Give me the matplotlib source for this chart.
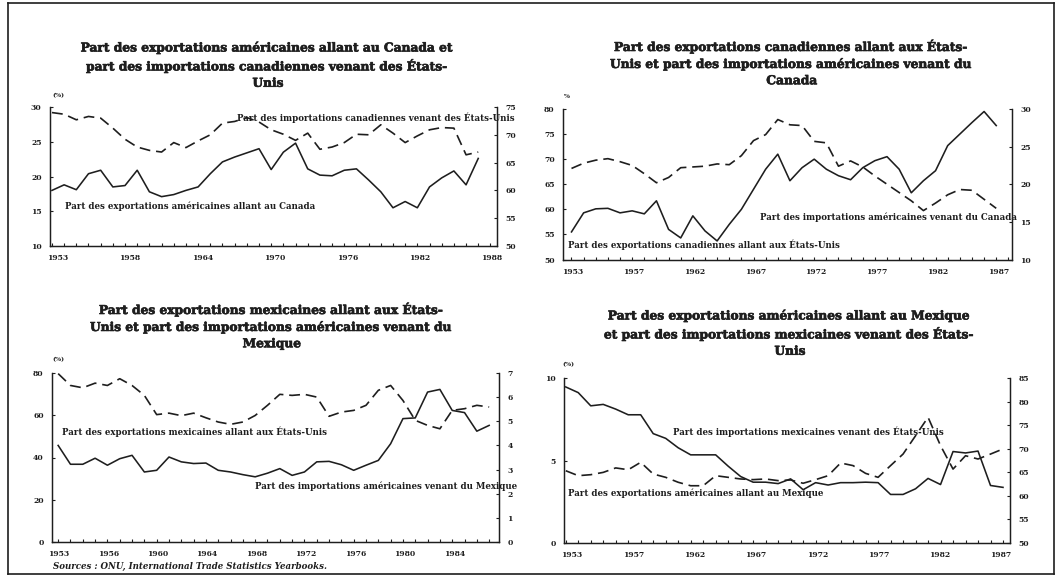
import numpy as np
import matplotlib
matplotlib.use("Agg")
import matplotlib.pyplot as plt
from matplotlib.lines import Line2D
import matplotlib.patheffects as pe

W, H = 1058, 578

# ---- data -------------------------------------------------------------
# Canada / Etats-Unis (en %)
us_exp_to_canada = [18.0, 18.8, 18.1, 20.4, 20.9, 18.5, 18.7, 20.9, 17.8, 17.1,
                    17.4, 18.0, 18.5, 20.4, 22.1, 22.8, 23.4, 24.0, 21.0, 23.5,
                    24.8, 21.1, 20.2, 20.1, 20.9, 21.1, 19.5, 17.8, 15.5, 16.4,
                    15.5, 18.5, 19.8, 20.8, 18.8, 22.6]
can_imp_from_us = [74.0, 73.7, 72.7, 73.3, 73.0, 71.2, 69.2, 67.8, 67.2, 66.9,
                   68.6, 67.7, 68.9, 70.0, 72.1, 72.4, 73.1, 72.3, 70.9, 70.1,
                   69.0, 70.3, 67.4, 67.8, 68.6, 70.1, 70.0, 71.8, 70.3, 68.6,
                   69.8, 70.9, 71.3, 71.2, 66.4, 66.9]

can_exp_to_us = [55.5, 59.3, 60.1, 60.2, 59.3, 59.7, 59.1, 61.7, 56.0, 54.3,
                 58.7, 55.7, 53.7, 57.0, 60.0, 64.0, 68.0, 71.0, 65.7, 68.3,
                 70.0, 68.0, 66.7, 65.9, 68.3, 69.7, 70.5, 68.0, 63.3, 65.7,
                 67.7, 72.7, 75.0, 77.3, 79.5, 76.7]
us_imp_from_canada = [22.1, 22.8, 23.2, 23.4, 23.0, 22.5, 21.4, 20.2, 20.9, 22.2,
                      22.3, 22.4, 22.7, 22.6, 23.8, 25.8, 26.6, 28.6, 27.9, 27.8,
                      25.7, 25.5, 22.4, 23.1, 22.3, 21.1, 20.0, 18.9, 17.8, 16.5,
                      17.5, 18.6, 19.3, 19.2, 18.0, 16.8]

# Mexique / Etats-Unis (en %)
mex_exp_to_us = [79.7, 74.1, 73.0, 75.2, 74.1, 77.3, 74.1, 69.4, 60.3, 61.0,
                 59.8, 61.0, 58.8, 56.8, 55.7, 56.8, 59.9, 64.7, 69.9, 69.4,
                 69.9, 68.6, 59.5, 61.5, 62.3, 64.7, 71.8, 74.1, 67.0, 57.6,
                 55.2, 53.6, 62.3, 63.1, 64.7, 63.9]
us_imp_from_mexico = [4.00, 3.22, 3.22, 3.47, 3.18, 3.45, 3.59, 2.90, 2.97, 3.52,
                      3.32, 3.25, 3.27, 2.97, 2.90, 2.79, 2.70, 2.85, 3.04, 2.76,
                      2.90, 3.32, 3.34, 3.20, 2.97, 3.18, 3.38, 4.07, 5.11, 5.14,
                      6.21, 6.32, 5.45, 5.36, 4.59, 4.83]

us_exp_to_mexico = [4.38, 4.08, 4.14, 4.28, 4.55, 4.44, 4.89, 4.18, 3.98, 3.68,
                    3.47, 3.47, 4.08, 3.98, 3.88, 3.84, 3.88, 3.78, 3.82, 3.62,
                    3.84, 4.08, 4.85, 4.69, 4.22, 3.98, 4.69, 5.39, 6.50, 7.62,
                    5.90, 4.48, 5.29, 5.09, 5.39, 5.70]
mex_imp_from_us = [83.1, 81.9, 79.1, 79.4, 78.4, 77.2, 77.2, 73.2, 72.2, 70.2,
                   68.7, 68.7, 68.7, 66.3, 64.1, 62.9, 62.9, 62.6, 63.6, 61.3,
                   62.8, 62.3, 62.8, 62.8, 62.9, 62.8, 60.3, 60.3, 61.5, 63.7,
                   62.4, 69.4, 69.1, 69.5, 62.2, 61.8]

first_year = 1953

# tick labels of the four year axes
years_tl = ["1953", "1958", "1964", "1970", "1976", "1982", "1988"]
years_tr = ["1953", "1957", "1962", "1967", "1972", "1977", "1982", "1987"]
years_bl = ["1953", "1956", "1960", "1964", "1968", "1972", "1976", "1980", "1984"]
years_br = ["1953", "1957", "1962", "1967", "1972", "1977", "1982", "1987"]

titles = [
    "Part des exportations américaines allant au Canada et\n"
    "part des importations canadiennes venant des États-\nUnis",
    "Part des exportations canadiennes allant aux États-\n"
    "Unis et part des importations américaines venant du\nCanada",
    "Part des exportations mexicaines allant aux États-\n"
    "Unis et part des importations américaines venant du\nMexique",
    "Part des exportations américaines allant au Mexique\n"
    "et part des importations mexicaines venant des États-\nUnis",
]

INK = "#1e1e1e"
SERIF = ["DejaVu Serif"]
HEAVY = [pe.withStroke(linewidth=0.45, foreground=INK)]

fig = plt.figure(figsize=(W / 100, H / 100), dpi=100)
fig.patch.set_facecolor("white")


def box(x0, y0, x1, y1):
    """axes rectangle from pixel corners (top-left origin)"""
    return [x0 / W, 1 - y1 / H, (x1 - x0) / W, (y1 - y0) / H]


def ftext(x, y, s, **kw):
    kw.setdefault("family", SERIF)
    kw.setdefault("color", INK)
    return fig.text(x / W, 1 - y / H, s, **kw)


def panel(rect, left_vals, right_vals, solid_on_left, ylim_l, yt_l, ylim_r, yt_r,
          xlabels, pad_left, span, f0, f1):
    ax = fig.add_axes(rect)
    axr = ax.twinx()
    n = len(left_vals)
    x = np.arange(first_year, first_year + n)
    xmin = first_year - pad_left
    xmax = xmin + span

    dash = dict(color=INK, lw=1.2, dashes=(6.5, 3.5))
    sol = dict(color=INK, lw=1.15)
    if solid_on_left:
        ax.plot(x, left_vals, **sol)
        axr.plot(x, right_vals, **dash)
    else:
        ax.plot(x, left_vals, **dash)
        axr.plot(x, right_vals, **sol)

    ax.set_yticks(yt_l)
    axr.set_yticks(yt_r)
    ax.set_yticklabels([str(v) for v in yt_l])
    axr.set_yticklabels([str(v) for v in yt_r])

    pos = np.linspace(xmin + f0 * span, xmin + f1 * span, len(xlabels))
    ax.set_xticks(pos)
    ax.set_xticklabels(xlabels)
    yearly = np.arange(np.ceil(xmin), np.floor(xmax) + 1)
    ax.set_xticks(yearly, minor=True)

    ax.set_xlim(xmin, xmax)
    ax.set_ylim(*ylim_l)
    axr.set_ylim(*ylim_r)

    for a in (ax, axr):
        for s in a.spines.values():
            s.set_linewidth(0.9)
            s.set_color(INK)
        a.spines["top"].set_visible(False)
        a.tick_params(axis="y", direction="in", length=2.5, width=0.8,
                      labelsize=5.5, pad=6, colors=INK)
        for lab in a.get_yticklabels():
            lab.set_family(SERIF)
            lab.set_fontweight("bold")
    ax.tick_params(axis="x", which="major", length=0, labelsize=5.5, pad=6,
                   colors=INK)
    ax.tick_params(axis="x", which="minor", direction="in", length=2.5, width=0.8,
                   colors=INK)
    for lab in ax.get_xticklabels():
        lab.set_family(SERIF)
        lab.set_fontweight("bold")
    return ax, axr


# top-left: Canada
panel(box(50, 107, 497, 246), us_exp_to_canada, can_imp_from_us, True,
      (10, 30), [10, 15, 20, 25, 30], (50, 75), [50, 55, 60, 65, 70, 75],
      years_tl, 0.16, 36.7, 0.017, 0.989)
# top-right: Canada
panel(box(563, 109, 1012, 259.5), can_exp_to_us, us_imp_from_canada, True,
      (50, 80), [50, 55, 60, 65, 70, 75, 80], (10, 30), [10, 15, 20, 25, 30],
      years_tr, 0.7, 37.0, 0.022, 0.97)
# bottom-left: Mexique
panel(box(52, 373, 499, 542), mex_exp_to_us, us_imp_from_mexico, False,
      (0, 80), [0, 20, 40, 60, 80], (0, 7), [0, 1, 2, 3, 4, 5, 6, 7],
      years_bl, 0.5, 36.3, 0.015, 0.90)
# bottom-right: Mexique
panel(box(564, 378, 1010, 543), us_exp_to_mexico, mex_imp_from_us, False,
      (0, 10), [0, 5, 10], (50, 85), [50, 55, 60, 65, 70, 75, 80, 85],
      years_br, 0.14, 35.7, 0.018, 0.98)

# panel titles
title_kw = dict(fontsize=8.8, fontweight="bold", ha="center", va="top",
                linespacing=1.33, multialignment="center")
for (tx, ty), t in zip([(268, 41), (792, 39), (272, 302), (790, 309)], titles):
    ftext(tx, ty, t, **title_kw).set_path_effects(HEAVY)

# unit markers
unit_kw = dict(fontsize=4.5, fontweight="bold", ha="left", va="center")
ftext(52, 96, "(%)", **unit_kw)
ftext(564, 96, "%", **unit_kw)
ftext(52, 360, "(%)", **unit_kw)
ftext(562, 365, "(%)", **unit_kw)

# series labels
lab_kw = dict(fontsize=6.2, ha="left", va="center", fontweight="semibold")
ftext(237, 118, "Part des importations canadiennes venant des États-Unis", **lab_kw)
ftext(65, 206, "Part des exportations américaines allant au Canada", **lab_kw)
ftext(760, 217, "Part des importations américaines venant du Canada", **lab_kw)
ftext(568, 245, "Part des exportations canadiennes allant aux États-Unis", **lab_kw)
ftext(62, 432, "Part des exportations mexicaines allant aux États-Unis", **lab_kw)
ftext(255, 486, "Part des importations américaines venant du Mexique", **lab_kw)
ftext(673, 432, "Part des importations mexicaines venant des États-Unis", **lab_kw)
ftext(568, 493, "Part des exportations américaines allant au Mexique", **lab_kw)

# source line
ftext(53, 566, "Sources : ONU, International Trade Statistics Yearbooks.",
      fontsize=6.2, fontstyle="italic", fontweight="bold", ha="left", va="center")

# page frame
for (xa, ya, xb, yb) in [(8, 3, 1054, 3), (8, 3, 8, 574), (1054, 3, 1054, 574),
                         (8, 574, 1054, 574)]:
    fig.add_artist(Line2D([xa / W, xb / W], [1 - ya / H, 1 - yb / H],
                          transform=fig.transFigure, color=INK, lw=1.2))

fig.savefig("out.png", dpi=100, facecolor="white")
